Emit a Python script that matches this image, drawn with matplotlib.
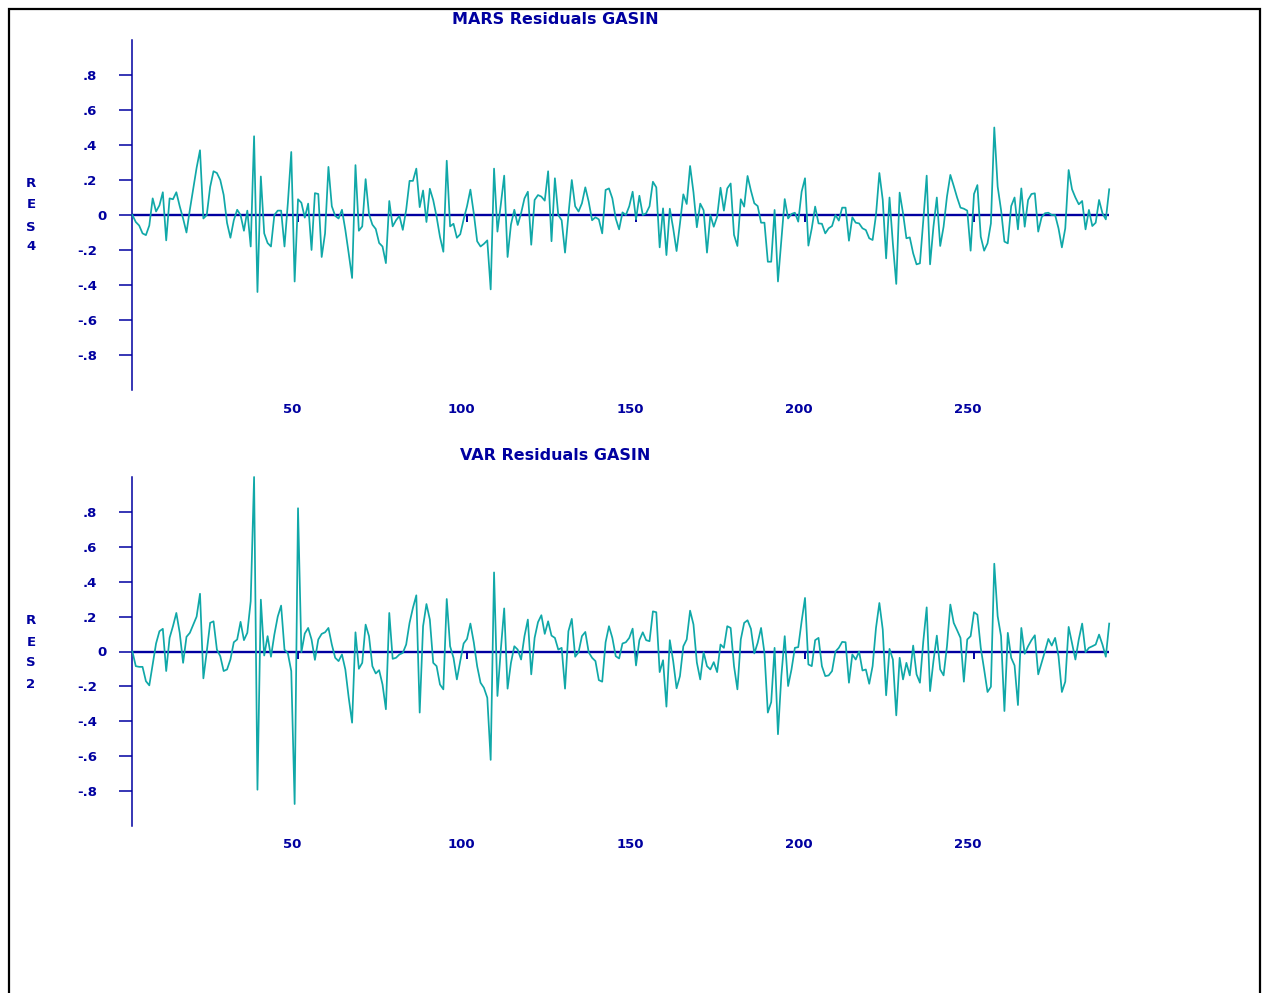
import matplotlib
matplotlib.use("Agg")
import matplotlib.pyplot as plt
import numpy as np
from matplotlib.transforms import ScaledTranslation
from matplotlib.patches import Rectangle

# ---------------- data ----------------
mars_resid = [
    0.0, -0.04, -0.06, -0.105, -0.115, -0.06, 0.095, 0.02, 0.055, 0.13,
    -0.145, 0.095, 0.09, 0.13, 0.05, -0.02, -0.10, 0.03, 0.15, 0.27,
    0.37, -0.02, 0.0, 0.16, 0.25, 0.24, 0.20, 0.115, -0.045, -0.13,
    -0.03, 0.03, 0.0, -0.09, 0.025, -0.18, 0.45, -0.44, 0.22, -0.105,
    -0.16, -0.18, 0.0, 0.025, 0.025, -0.18, 0.07, 0.36, -0.38, 0.09,
    0.07, -0.015, 0.065, -0.20, 0.125, 0.12, -0.24, -0.105, 0.275, 0.05,
    -0.005, -0.02, 0.03, -0.085, -0.22, -0.36, 0.285, -0.09, -0.065, 0.205,
    0.005, -0.055, -0.08, -0.16, -0.18, -0.275, 0.08, -0.065, -0.03, -0.005,
    -0.085, 0.03, 0.195, 0.195, 0.265, 0.045, 0.14, -0.04, 0.15, 0.085,
    -0.01, -0.125, -0.21, 0.31, -0.065, -0.05, -0.13, -0.11, -0.025, 0.05,
    0.145, 0.01, -0.15, -0.18, -0.165, -0.145, -0.425, 0.265, -0.095, 0.06,
    0.225, -0.24, -0.055, 0.03, -0.057, 0.01, 0.095, 0.133, -0.17, 0.086,
    0.114, 0.105, 0.082, 0.25, -0.15, 0.21, 0.0, -0.03, -0.215, 0.0,
    0.2, 0.05, 0.02, 0.067, 0.158, 0.076, -0.03, -0.013, -0.025, -0.105,
    0.143, 0.152, 0.095, -0.02, -0.082, 0.015, 0.0, 0.05, 0.133, -0.025,
    0.11, 0.0, 0.01, 0.05, 0.19, 0.158, -0.185, 0.038, -0.229, 0.036,
    -0.076, -0.206, -0.05, 0.118, 0.063, 0.28, 0.13, -0.07, 0.065, 0.027,
    -0.215, 0.0, -0.067, -0.01, 0.156, 0.025, 0.152, 0.18, -0.114, -0.177,
    0.09, 0.048, 0.223, 0.139, 0.067, 0.051, -0.044, -0.044, -0.267, -0.267,
    0.029, -0.38, -0.143, 0.091, -0.02, 0.006, 0.013, -0.038, 0.133, 0.21,
    -0.175, -0.076, 0.048, -0.048, -0.05, -0.105, -0.076, -0.063, 0.0, -0.032,
    0.042, 0.042, -0.147, -0.013, -0.044, -0.048, -0.076, -0.086, -0.133, -0.143,
    0.0, 0.24, 0.086, -0.248, 0.1, -0.165, -0.394, 0.128, 0.01, -0.133,
    -0.128, -0.219, -0.282, -0.276, -0.03, 0.225, -0.282, -0.067, 0.1, -0.177,
    -0.067, 0.105, 0.229, 0.166, 0.1, 0.042, 0.036, 0.025, -0.204, 0.12,
    0.171, -0.124, -0.204, -0.162, -0.048, 0.5, 0.162, 0.029, -0.152, -0.162,
    0.051, 0.1, -0.082, 0.152, -0.067, 0.086, 0.12, 0.124, -0.095, -0.013,
    0.01, 0.013, 0.0, 0.0, -0.076, -0.185, -0.076, 0.257, 0.147, 0.1,
    0.061, 0.08, -0.082, 0.029, -0.063, -0.044, 0.086, 0.01, -0.025, 0.147,
]

var_resid = [
    0.0, -0.084, -0.088, -0.088, -0.17, -0.194, -0.074, 0.046, 0.116, 0.13,
    -0.112, 0.078, 0.145, 0.221, 0.107, -0.065, 0.084, 0.107, 0.154, 0.2,
    0.331, -0.154, 0.0, 0.164, 0.173, 0.011, -0.027, -0.112, -0.103, -0.046,
    0.053, 0.069, 0.17, 0.065, 0.107, 0.288, 1.0, -0.792, 0.297, -0.023,
    0.088, -0.03, 0.097, 0.2, 0.263, 0.011, -0.011, -0.112, -0.874, 0.821,
    -0.004, 0.103, 0.135, 0.069, -0.048, 0.069, 0.101, 0.11, 0.135, 0.04,
    -0.036, -0.055, -0.017, -0.103, -0.265, -0.408, 0.11, -0.099, -0.065, 0.154,
    0.088, -0.084, -0.126, -0.107, -0.189, -0.331, 0.221, -0.042, -0.036, -0.017,
    -0.008, 0.04, 0.164, 0.25, 0.322, -0.35, 0.145, 0.272, 0.183, -0.065,
    -0.084, -0.189, -0.217, 0.301, 0.03, -0.036, -0.16, -0.055, 0.046, 0.072,
    0.16, 0.053, -0.084, -0.179, -0.208, -0.265, -0.621, 0.453, -0.255, 0.011,
    0.247, -0.213, -0.065, 0.03, 0.011, -0.046, 0.088, 0.183, -0.131, 0.078,
    0.168, 0.208, 0.101, 0.173, 0.091, 0.078, 0.011, 0.021, -0.213, 0.116,
    0.187, -0.03, -0.004, 0.088, 0.112, -0.004, -0.036, -0.055, -0.164, -0.173,
    0.053, 0.145, 0.078, -0.027, -0.04, 0.046, 0.053, 0.078, 0.131, -0.08,
    0.065, 0.11, 0.065, 0.059, 0.23, 0.225, -0.118, -0.05, -0.316, 0.065,
    -0.055, -0.211, -0.141, 0.03, 0.069, 0.234, 0.155, -0.063, -0.16, -0.004,
    -0.084, -0.103, -0.061, -0.118, 0.04, 0.021, 0.145, 0.135, -0.084, -0.217,
    0.069, 0.164, 0.179, 0.13, -0.011, 0.05, 0.135, -0.008, -0.35, -0.29,
    0.021, -0.474, -0.141, 0.088, -0.198, -0.103, 0.021, 0.025, 0.173, 0.307,
    -0.074, -0.084, 0.065, 0.078, -0.084, -0.141, -0.137, -0.112, 0.0, 0.021,
    0.055, 0.053, -0.179, -0.017, -0.046, 0.0, -0.109, -0.103, -0.185, -0.084,
    0.135, 0.278, 0.126, -0.251, 0.015, -0.046, -0.366, -0.036, -0.16, -0.065,
    -0.137, 0.034, -0.131, -0.179, 0.059, 0.253, -0.227, -0.055, 0.091, -0.103,
    -0.137, 0.03, 0.269, 0.164, 0.122, 0.078, -0.173, 0.069, 0.088, 0.225,
    0.211, 0.021, -0.103, -0.232, -0.202, 0.503, 0.202, 0.088, -0.341, 0.107,
    -0.036, -0.08, -0.307, 0.135, -0.013, 0.03, 0.065, 0.093, -0.131, -0.065,
    0.002, 0.072, 0.034, 0.078, -0.027, -0.232, -0.173, 0.141, 0.046, -0.046,
    0.069, 0.16, -0.004, 0.021, 0.03, 0.04, 0.097, 0.04, -0.03, 0.16,
]

x_ticks = [50, 100, 150, 200, 250]
x_tick_labels = ["50", "100", "150", "200", "250"]
y_ticks = [-0.8, -0.6, -0.4, -0.2, 0.0, 0.2, 0.4, 0.6, 0.8]
y_tick_labels = ["-.8", "-.6", "-.4", "-.2", "0", ".2", ".4", ".6", ".8"]
titles = ["MARS Residuals GASIN", "VAR Residuals GASIN"]
y_names = ["RES4", "RES2"]

# ---------------- figure ----------------
W, H = 1262, 993
DPI = 100
fig = plt.figure(figsize=(W / DPI, H / DPI), dpi=DPI, facecolor="white")

NAVY = "#0000A0"
TEAL = "#10A8A8"
FONT = "DejaVu Sans"

# outer frame (bottom edge lies below the picture)
fig.add_artist(Rectangle((8.5 / W, -0.05), (1260 - 8.5) / W, 1 - 8.5 / H + 0.05,
                         transform=fig.transFigure, fill=False,
                         edgecolor="black", linewidth=1.6))

panels = [
    dict(data=mars_resid, title=titles[0], name=y_names[0],
         top=40, bottom=390, title_y=20, name_y=[184, 205, 227, 247]),
    dict(data=var_resid, title=titles[1], name=y_names[1],
         top=477, bottom=826, title_y=456, name_y=[621, 642, 663, 684]),
]

LEFT, RIGHT = 132.4, 1109.2

for p in panels:
    ax = fig.add_axes([LEFT / W, 1 - p["bottom"] / H,
                       (RIGHT - LEFT) / W, (p["bottom"] - p["top"]) / H])
    ax.set_facecolor("none")
    y = np.asarray(p["data"], dtype=float)
    x = np.arange(1, len(y) + 1)
    ax.axhline(0, color=NAVY, lw=1.7, zorder=2)
    ax.plot(x, y, color=TEAL, lw=1.25, zorder=3, clip_on=False)
    ax.plot(x_ticks, [0] * len(x_ticks), ls="none", marker=3, ms=5,
            mew=1.4, color=NAVY, zorder=2)
    ax.set_xlim(1, 290)
    ax.set_ylim(-1, 1)
    for s in ["top", "right", "bottom"]:
        ax.spines[s].set_visible(False)
    ax.spines["left"].set_color(NAVY)
    ax.spines["left"].set_linewidth(1.1)

    ax.set_yticks(y_ticks)
    ax.set_yticklabels(y_tick_labels, fontfamily=FONT, fontweight="bold")
    ax.tick_params(axis="y", direction="out", length=9.4, width=1.1,
                   color=NAVY, labelcolor=NAVY, pad=16, labelsize=9.5)
    ax.set_xticks(x_ticks)
    ax.set_xticklabels(x_tick_labels, fontfamily=FONT, fontweight="bold")
    ax.tick_params(axis="x", length=0, pad=9, labelcolor=NAVY, labelsize=9.5)

    off_x = ScaledTranslation(-6 / DPI, 0, fig.dpi_scale_trans)
    for lab in ax.get_xticklabels():
        lab.set_transform(lab.get_transform() + off_x)
    off_zero = ScaledTranslation(10 / DPI, 0, fig.dpi_scale_trans)
    for lab, txt in zip(ax.get_yticklabels(), y_tick_labels):
        if txt == "0":
            lab.set_transform(lab.get_transform() + off_zero)

    fig.text(555.5 / W, 1 - p["title_y"] / H, p["title"], ha="center",
             va="center", color=NAVY, fontsize=11.5, fontweight="bold",
             family=FONT)
    for ch, yy in zip(p["name"], p["name_y"]):
        fig.text(31 / W, 1 - yy / H, ch, ha="center", va="center",
                 color=NAVY, fontsize=9.5, fontweight="bold", family=FONT)

fig.savefig("out.png", dpi=DPI, facecolor="white")
